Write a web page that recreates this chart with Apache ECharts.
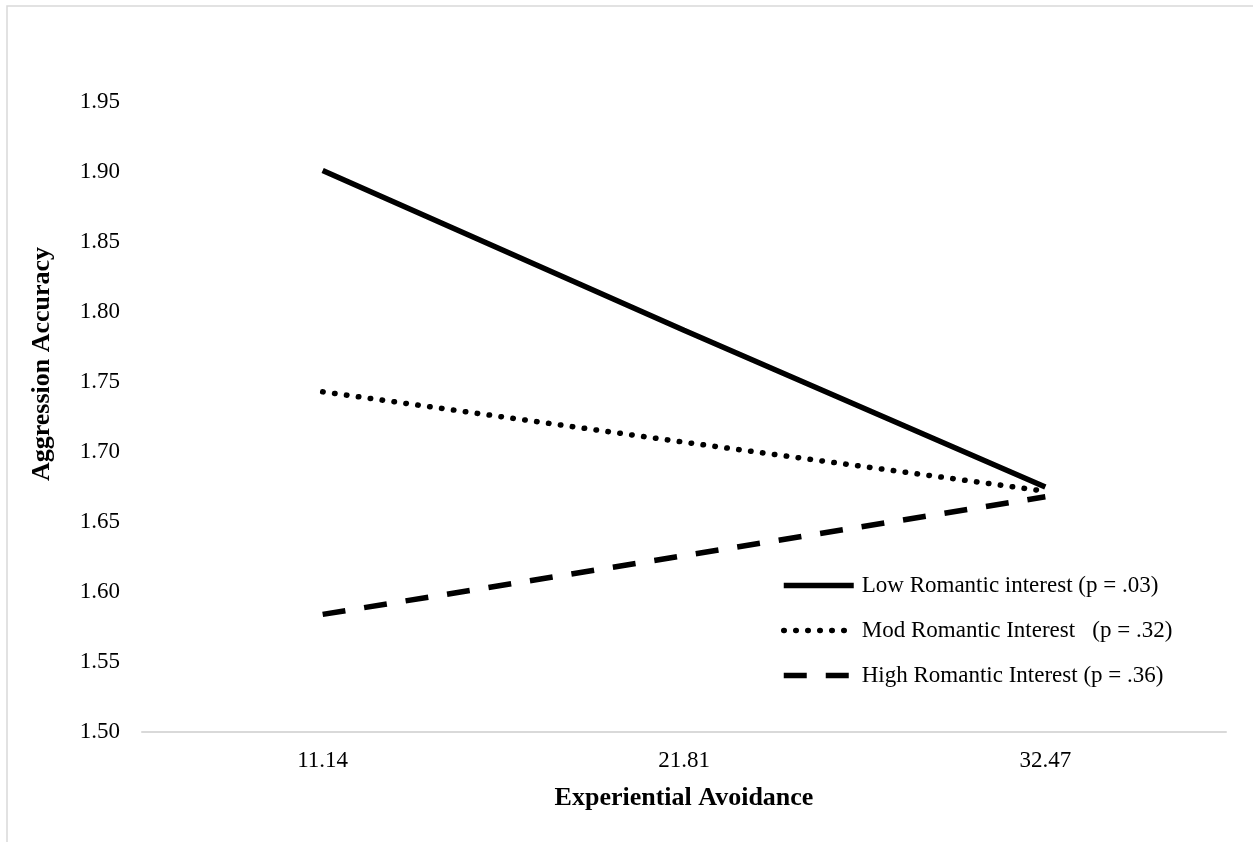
<!DOCTYPE html>
<html>
<head>
<meta charset="utf-8">
<script src="https://cdn.jsdelivr.net/npm/echarts@6/dist/echarts.min.js"></script>
<style>
html,body{margin:0;padding:0;background:#fff;}
#chart{width:1253px;height:842px;}
</style>
</head>
<body>
<div id="chart"></div>
<script>
const categories = ['11.14', '21.81', '32.47'];
const lowRomantic = [1.901, 1.787, 1.675];
const modRomantic = [1.743, 1.707, 1.672];
const highRomantic = [1.584, 1.626, 1.668];
const seriesNames = ['Low Romantic interest (p = .03)', 'Mod Romantic Interest   (p = .32)', 'High Romantic Interest (p = .36)'];
const yTitle = 'Aggression Accuracy';
const xTitle = 'Experiential Avoidance';

const FONT = '"Liberation Serif", "Times New Roman", serif';
const chart = echarts.init(document.getElementById('chart'));
chart.setOption({
  backgroundColor: '#fff',
  animation: false,
  graphic: [
    { type: 'rect', shape: { x: 7, y: 6, width: 1400, height: 1000 }, style: { fill: 'none', stroke: '#d9d9d9', lineWidth: 1.5 }, silent: true },
    { type: 'text', x: 42, y: 364, rotation: Math.PI / 2, style: { text: yTitle, font: 'bold 26px ' + FONT, fill: '#000', textAlign: 'center', textVerticalAlign: 'middle' } }
  ],
  grid: { left: 142, right: 27, top: 102, bottom: 110 },
  legend: {
    orient: 'vertical', left: 781, top: 574, padding: 0, itemWidth: 70, itemHeight: 24, itemGap: 22,
    itemStyle: { opacity: 0 },
    lineStyle: { width: 5.5 },
    textStyle: { fontFamily: FONT, fontSize: 23, color: '#000', padding: [0, 0, 0, 3] },
    data: seriesNames.map(n => ({ name: n }))
  },
  xAxis: {
    type: 'category', data: categories, boundaryGap: true,
    axisLine: { lineStyle: { color: '#d9d9d9', width: 2 } },
    axisTick: { show: false },
    axisLabel: { fontFamily: FONT, fontSize: 23, color: '#000', margin: 17 },
    name: xTitle, nameLocation: 'middle', nameGap: 53,
    nameTextStyle: { fontFamily: FONT, fontSize: 26, fontWeight: 'bold', color: '#000' }
  },
  yAxis: {
    type: 'value', min: 1.5, max: 1.95, interval: 0.05,
    axisLine: { show: false }, axisTick: { show: false }, splitLine: { show: false },
    axisLabel: { fontFamily: FONT, fontSize: 23, color: '#000', margin: 22, formatter: v => v.toFixed(2) }
  },
  series: [
    { name: seriesNames[0], type: 'line', data: lowRomantic, symbol: 'none', lineStyle: { color: '#000', width: 5.5, type: 'solid' }, itemStyle: { color: '#000' } },
    { name: seriesNames[1], type: 'line', data: modRomantic, symbol: 'none', lineStyle: { color: '#000', width: 5.5, type: [0.5, 11.5], cap: 'round' }, itemStyle: { color: '#000' } },
    { name: seriesNames[2], type: 'line', data: highRomantic, symbol: 'none', lineStyle: { color: '#000', width: 5.5, type: [23, 19], cap: 'butt' }, itemStyle: { color: '#000' } }
  ]
});
</script>
</body>
</html>
